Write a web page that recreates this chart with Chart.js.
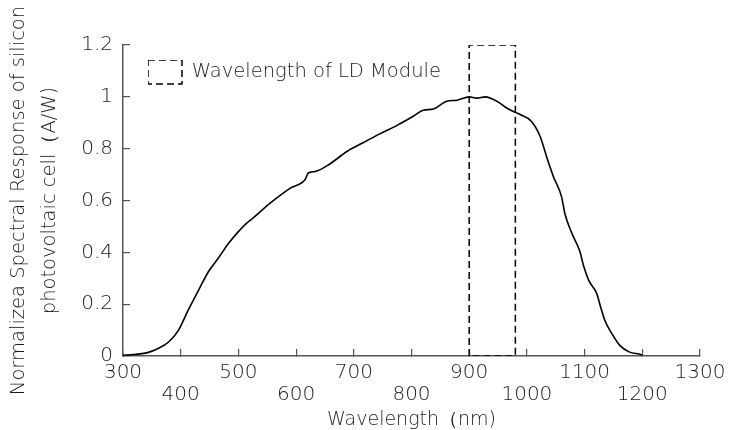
<!DOCTYPE html>
<html><head><meta charset="utf-8">
<script src="https://cdn.jsdelivr.net/npm/chart.js@4/dist/chart.umd.min.js"></script>
<style>html,body{margin:0;padding:0;background:#fff}#wrap{width:729px;height:430px}</style>
</head><body><div id="wrap"><canvas id="c" width="729" height="430"></canvas></div>
<script>
// ---- data ----
const wavelengths = [300,341,361,379,396,413,431,448,465,483,500,514,523,555,590,616,621,633,659,688,717,746,775,803,820,838,861,879,900,913,928,948,965,980,989,1008,1023,1034,1046,1060,1066,1078,1092,1098,1107,1121,1127,1135,1147,1161,1178,1196,1200];
const response    = [0.003,0.012,0.029,0.054,0.099,0.177,0.254,0.325,0.377,0.435,0.48,0.512,0.528,0.59,0.648,0.682,0.706,0.712,0.742,0.789,0.824,0.858,0.89,0.925,0.948,0.953,0.983,0.987,1.0,0.995,1.0,0.983,0.957,0.94,0.931,0.905,0.847,0.77,0.692,0.615,0.548,0.473,0.402,0.35,0.293,0.241,0.195,0.138,0.087,0.041,0.015,0.007,0.004];
const ldBoxX = [900, 900, 980, 980, 900];
const ldBoxY = [0, 1.2, 1.2, 0, 0];
const xTickValues = [300,400,500,600,700,800,900,1000,1100,1200,1300];
const yTickValues = [0,0.2,0.4,0.6,0.8,1,1.2];
const ldLabel = 'Wavelength of LD Module';
const xTitle = 'Wavelength（nm)';
const yTitle = ['Normalizea Spectral Response of silicon', 'photovoltaic cell（A/W)'];

const FONT = '"DejaVu Sans", sans-serif';
const TXT = '#1a1a1a';
const AX = '#555';

const legendShift = {
  id: 'legendShift',
  beforeDraw(chart) {
    const lg = chart.legend, a = chart.chartArea;
    if (!lg) return;
    const h = lg.height;
    lg.left = a.left + 25; lg.right = a.right;
    lg.top = a.top + 15; lg.bottom = lg.top + h + 20;
  }
};

new Chart(document.getElementById('c'), {
  type: 'line',
  data: {
    datasets: [
      {
        label: 'response',
        data: wavelengths.map((w, i) => ({x: w, y: response[i]})),
        borderColor: '#000', borderWidth: 1.6, backgroundColor: 'rgba(0,0,0,0)',
        pointRadius: 0, cubicInterpolationMode: 'monotone', fill: false
      },
      {
        label: ldLabel,
        data: ldBoxX.map((w, i) => ({x: w, y: ldBoxY[i]})),
        borderColor: '#000', borderWidth: 1.5, borderDash: [7, 4], backgroundColor: 'rgba(0,0,0,0)',
        pointRadius: 0, tension: 0, fill: false
      }
    ]
  },
  options: {
    responsive: false, animation: false, devicePixelRatio: 1,
    layout: { padding: { top: 45, right: 29, left: 0, bottom: 0 } },
    plugins: {
      tooltip: { enabled: false },
      legend: {
        position: 'chartArea', align: 'start',
        labels: {
          filter: item => item.datasetIndex === 1,
          boxWidth: 34, boxHeight: 24, padding: 0,
          color: TXT, font: { family: FONT, size: 19.5, weight: 200 }
        }
      }
    },
    scales: {
      x: {
        type: 'linear', min: 300, max: 1300,
        afterBuildTicks: s => { s.ticks = xTickValues.map(v => ({value: v})); },
        afterFit: s => { s.height = 74; s.paddingLeft = 0; s.paddingRight = 0; },
        border: { color: AX, width: 1.5 },
        grid: { drawOnChartArea: false, tickLength: -7, color: AX, lineWidth: 1.2 },
        ticks: {
          autoSkip: false, maxRotation: 0, padding: 13, color: TXT,
          font: { family: FONT, size: 20, weight: 200, lineHeight: 1.1 },
          callback: (v, i) => i % 2 === 0 ? String(v) : ['', String(v)]
        },
        title: { display: true, text: xTitle, color: TXT, padding: 0,
          font: { family: FONT, size: 19, weight: 200, lineHeight: 1.0 } }
      },
      y: {
        min: 0, max: 1.2,
        afterBuildTicks: s => { s.ticks = yTickValues.map(v => ({value: v})); },
        afterFit: s => { s.width = 123; s.paddingTop = 0; s.paddingBottom = 0; },
        border: { color: AX, width: 1.5 },
        grid: { drawOnChartArea: false, tickLength: -7, color: AX, lineWidth: 1.2 },
        ticks: { padding: 17, color: TXT, font: { family: FONT, size: 20, weight: 200 },
          callback: v => String(v) },
        title: { display: true, text: yTitle, color: TXT, padding: { top: 4, bottom: 0 },
          font: { family: FONT, size: 19.5, weight: 200, lineHeight: 1.58 } }
      }
    }
  },
  plugins: [legendShift]
});
</script>
</body></html>
